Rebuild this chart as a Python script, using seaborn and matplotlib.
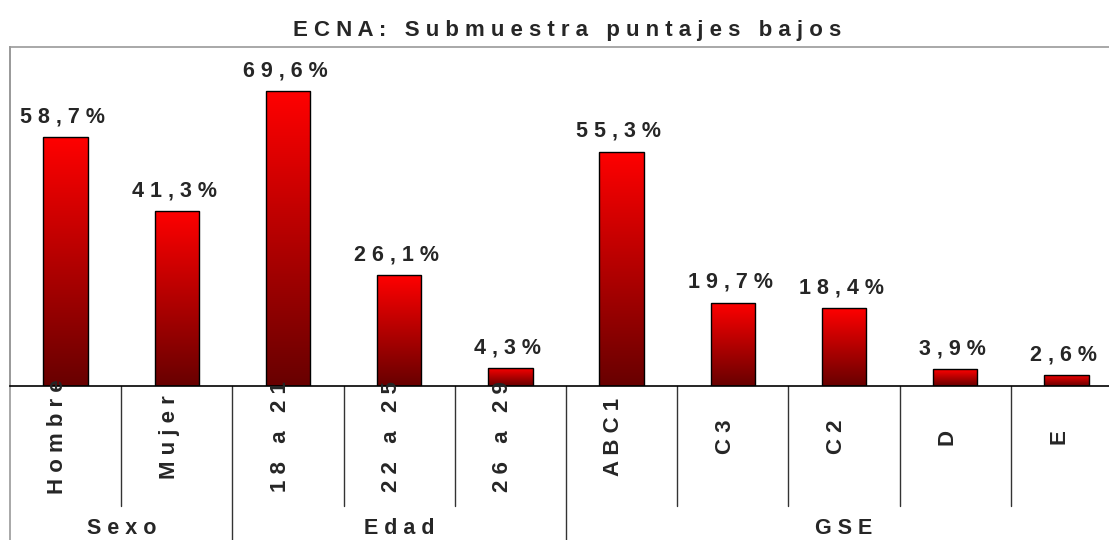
import numpy as np
import pandas as pd
import matplotlib
matplotlib.use('Agg')
import matplotlib.pyplot as plt
import seaborn as sns
from matplotlib.colors import LinearSegmentedColormap

# Data
categories = ['Hombre', 'Mujer', '18 a 21', '22 a 25', '26 a 29',
              'ABC1', 'C3', 'C2', 'D', 'E']
values = [58.7, 41.3, 69.6, 26.1, 4.3, 55.3, 19.7, 18.4, 3.9, 2.6]
groups = ['Sexo', 'Edad', 'GSE']
group_sizes = [2, 3, 5]

df = pd.DataFrame({'categoria': categories, 'valor': values})


def spaced(s):
    # the original chart uses wide letter spacing everywhere
    return ' '.join(s)


sns.set_style('white')
plt.rcParams['font.family'] = ['Liberation Sans', 'DejaVu Sans']
plt.rcParams['font.weight'] = 'bold'

fig = plt.figure(figsize=(11.09, 5.40), dpi=100)
W, H = 1109, 540
left, right, top, bottom = 10, 1122, 47, 386
ax = fig.add_axes([left / W, (H - bottom) / H, (right - left) / W, (bottom - top) / H])

sns.barplot(data=df, x='categoria', y='valor', order=categories, color='red',
            width=0.4, edgecolor='black', linewidth=1.0, ax=ax)

# red gradient inside each bar (bright on top, dark at the base)
cmap = LinearSegmentedColormap.from_list('rojo', ['#680000', '#ff0000'])
grad = np.linspace(0, 1, 256).reshape(-1, 1)
for p in ax.patches:
    x0, y0 = p.get_x(), p.get_y()
    w, h = p.get_width(), p.get_height()
    img = ax.imshow(grad, extent=[x0, x0 + w, y0, y0 + h], origin='lower',
                    aspect='auto', cmap=cmap, zorder=1)
    img.set_clip_path(p)
    p.set_facecolor('none')
    p.set_zorder(2)

ax.set_xlim(-0.5, len(categories) - 0.5)
ax.set_ylim(0, 80)
ax.set_xlabel('')
ax.set_ylabel('')
ax.set_yticks([])
ax.set_xticks([])

for s in ['top', 'left', 'right']:
    ax.spines[s].set_color('#999999')
    ax.spines[s].set_linewidth(1.2)
ax.spines['bottom'].set_color('black')
ax.spines['bottom'].set_linewidth(1.2)

# value labels
for i, v in enumerate(values):
    lab = spaced(f'{v:.1f}%'.replace('.', ','))
    ax.annotate(lab, (i, v), xytext=(-2, 7), textcoords='offset points',
                ha='center', va='bottom', fontsize=15.5, fontweight='bold')

# category table below the axis
ax_h = bottom - top
cat_low = -(506 - bottom) / ax_h
grp_low = -(H - bottom) / ax_h
trans = ax.get_xaxis_transform()
for i, c in enumerate(categories):
    ax.text(i - 0.07, -(437 - bottom) / ax_h, spaced(c), rotation=90,
            ha='center', va='center', fontsize=16, fontweight='bold',
            transform=trans, clip_on=False)

bounds = np.cumsum(group_sizes)
for k in range(1, len(categories)):
    x = k - 0.5
    low = grp_low if k in bounds else cat_low
    ax.plot([x, x], [0, low], transform=trans, color='#333333', lw=1.0,
            clip_on=False)
ax.plot([-0.5, -0.5], [1, grp_low], transform=trans, color='#999999', lw=1.2,
        clip_on=False)

start = 0
for g, n in zip(groups, group_sizes):
    xc = start + (n - 1) / 2
    ax.text(xc, -(529 - bottom) / ax_h, spaced(g), ha='center', va='center',
            fontsize=15.5, fontweight='bold', transform=trans, clip_on=False)
    start += n

fig.text(567 / W, 1 - 31 / H, spaced('ECNA: Submuestra puntajes bajos'),
         ha='center', va='center', fontsize=16, fontweight='bold')

fig.savefig('out.png', dpi=100)
